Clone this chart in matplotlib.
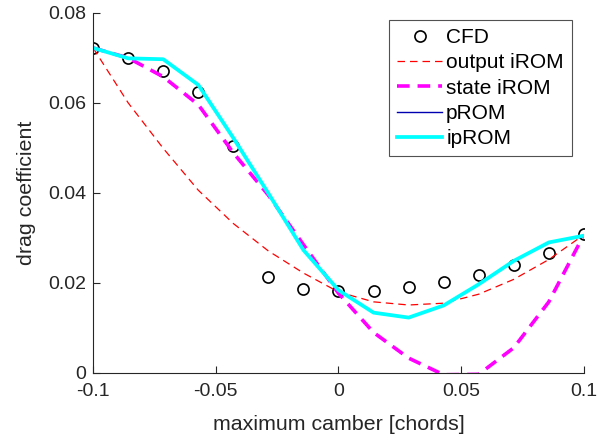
import numpy as np
import matplotlib.pyplot as plt

plt.rcParams['font.family'] = ['Liberation Sans', 'DejaVu Sans']

camber = np.linspace(-0.1, 0.1, 15)

cfd = [0.0723, 0.0699, 0.0670, 0.0624, 0.0504, 0.0213, 0.0187, 0.0181,
       0.0183, 0.0190, 0.0201, 0.0217, 0.0239, 0.0267, 0.0308]
output_irom = [0.0722, 0.0600, 0.0499, 0.0406, 0.0332, 0.0271, 0.0222, 0.0180,
               0.0158, 0.0151, 0.0155, 0.0175, 0.0208, 0.0252, 0.0307]
state_irom = [0.0722, 0.0700, 0.0658, 0.0596, 0.0489, 0.0395, 0.0285, 0.0177,
              0.0090, 0.0033, -0.0004, -0.0003, 0.0056, 0.0158, 0.0307]
prom = [0.0722, 0.0699, 0.0697, 0.0640, 0.0522, 0.0399, 0.0273, 0.0184,
        0.0134, 0.0123, 0.0150, 0.0197, 0.0249, 0.0290, 0.0305]
iprom = [0.0722, 0.0699, 0.0697, 0.0640, 0.0522, 0.0399, 0.0273, 0.0184,
         0.0134, 0.0123, 0.0150, 0.0197, 0.0249, 0.0290, 0.0305]

fig = plt.figure(figsize=(5.97, 4.44), dpi=100)
ax = fig.add_axes([0.156, 0.160, 0.822, 0.811])

ax.plot(camber, cfd, 'o', mfc='none', mec='black', ms=8, mew=1.2, label='CFD')
ax.plot(camber, output_irom, color='red', lw=0.9, dashes=(6, 4), label='output iROM')
ax.plot(camber, state_irom, color='magenta', lw=2.6, dashes=(3.5, 2.2), label='state iROM')
ax.plot(camber, prom, color='#0000b0', lw=1.0, label='pROM')
ax.plot(camber, iprom, color='cyan', lw=2.7, label='ipROM')

ax.set_xlim(-0.1, 0.1)
ax.set_ylim(0, 0.08)
ax.set_xticks([-0.1, -0.05, 0, 0.05, 0.1])
ax.set_xticklabels(['-0.1', '-0.05', '0', '0.05', '0.1'])
ax.set_yticks([0, 0.02, 0.04, 0.06, 0.08])
ax.set_yticklabels(['0', '0.02', '0.04', '0.06', '0.08'])

for s in ['top', 'right']:
    ax.spines[s].set_visible(False)
for s in ['left', 'bottom']:
    ax.spines[s].set_color('#262626')
    ax.spines[s].set_linewidth(0.8)
ax.tick_params(direction='in', length=5, width=0.8, colors='#262626',
               labelsize=14, labelcolor='#262626')
ax.tick_params(axis='x', pad=7)
ax.tick_params(axis='y', pad=5)

ax.set_xlabel('maximum camber [chords]', fontsize=15.4, color='#262626', labelpad=11)
ax.set_ylabel('drag coefficient', fontsize=15.4, color='#262626', labelpad=9)

leg = ax.legend(loc='upper right', bbox_to_anchor=(0.976, 0.981), fontsize=15,
                frameon=True, fancybox=False, handlelength=2.15, handletextpad=0.2,
                borderpad=0.4, labelspacing=0.3, borderaxespad=0)
leg.get_frame().set_edgecolor('#262626')
leg.get_frame().set_linewidth(0.8)

fig.savefig('out.png', dpi=100)
